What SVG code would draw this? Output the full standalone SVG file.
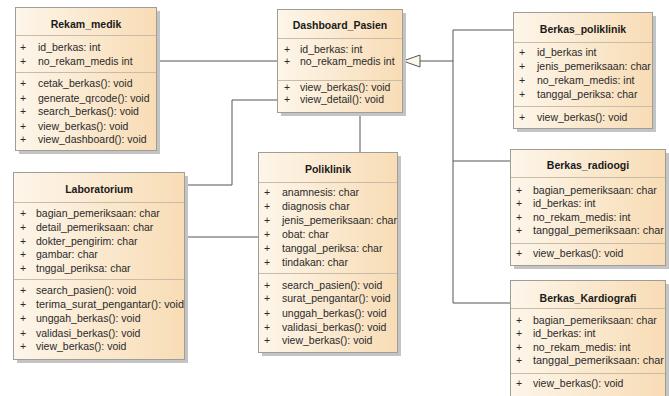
<svg xmlns="http://www.w3.org/2000/svg" width="669" height="396" viewBox="0 0 669 396">
  <defs>
    <linearGradient id="cls" x1="0" y1="0" x2="1" y2="0">
      <stop offset="0" stop-color="#fdf6ea"/>
      <stop offset="1" stop-color="#f8dcb5"/>
    </linearGradient>
  </defs>
  <style>
    .shadow { fill: #c4c4c4; }
    .box { fill: url(#cls); stroke: #a09c96; stroke-width: 1; }
    .sep { stroke: #c8bca8; stroke-width: 1; }
    .title { font-family: "Liberation Sans", Arial, sans-serif; font-size: 10.5px; font-weight: bold; fill: #1a1a1a; text-anchor: middle; }
    .m { font-family: "Liberation Sans", Arial, sans-serif; font-size: 10.5px; fill: #2a2a2a; }
    .conn { fill: none; stroke: #555555; stroke-width: 1; }
  </style>

  <!-- connectors -->
  <g id="connectors">
    <polyline class="conn" points="156,61 277,61"/>
    <polyline class="conn" points="277,100 232,100 232,185 184,185"/>
    <polyline class="conn" points="184,237 258,237"/>
    <polyline class="conn" points="360,112 360,152"/>
    <polyline class="conn" points="420,61 453,61"/>
    <polyline class="conn" points="513,30 453,30 453,303 510,303"/>
    <polyline class="conn" points="453,161 510,161"/>
    <polygon points="403,61 420,55 420,67" fill="#fdf8ee" stroke="#555555" stroke-width="1"/>
  </g>

  <!-- Rekam_medik -->
  <g id="rekam_medik">
    <rect class="shadow" x="19" y="11" width="141" height="143"/>
    <rect class="box" x="15.5" y="7.5" width="141" height="143"/>
    <line class="sep" x1="16" y1="35.5" x2="156" y2="35.5"/>
    <line class="sep" x1="16" y1="72.5" x2="156" y2="72.5"/>
    <text class="title" x="86" y="28">Rekam_medik</text>
    <text class="m" x="20" y="51">+</text><text class="m" x="38" y="51">id_berkas: int</text>
    <text class="m" x="20" y="65">+</text><text class="m" x="38" y="65">no_rekam_medis int</text>
    <text class="m" x="20" y="87">+</text><text class="m" x="38" y="87">cetak_berkas(): void</text>
    <text class="m" x="20" y="102">+</text><text class="m" x="38" y="102">generate_qrcode(): void</text>
    <text class="m" x="20" y="115">+</text><text class="m" x="38" y="115">search_berkas(): void</text>
    <text class="m" x="20" y="130">+</text><text class="m" x="38" y="130">view_berkas(): void</text>
    <text class="m" x="20" y="143">+</text><text class="m" x="38" y="143">view_dashboard(): void</text>
  </g>

  <!-- Dashboard_Pasien -->
  <g id="dashboard_pasien">
    <rect class="shadow" x="281" y="13" width="125" height="103"/>
    <rect class="box" x="277.5" y="9.5" width="125" height="103"/>
    <line class="sep" x1="278" y1="38.5" x2="402" y2="38.5"/>
    <line class="sep" x1="278" y1="80.5" x2="402" y2="80.5"/>
    <text class="title" x="340" y="29">Dashboard_Pasien</text>
    <text class="m" x="284" y="53">+</text><text class="m" x="300" y="53">id_berkas: int</text>
    <text class="m" x="284" y="65">+</text><text class="m" x="300" y="65">no_rekam_medis int</text>
    <text class="m" x="284" y="91">+</text><text class="m" x="300" y="91">view_berkas(): void</text>
    <text class="m" x="284" y="103">+</text><text class="m" x="300" y="103">view_detail(): void</text>
  </g>

  <!-- Berkas_poliklinik -->
  <g id="berkas_poliklinik">
    <rect class="shadow" x="517" y="16" width="139" height="116"/>
    <rect class="box" x="513.5" y="12.5" width="139" height="116"/>
    <line class="sep" x1="514" y1="42.5" x2="652" y2="42.5"/>
    <line class="sep" x1="514" y1="106.5" x2="652" y2="106.5"/>
    <text class="title" x="583" y="33">Berkas_poliklinik</text>
    <text class="m" x="519" y="56">+</text><text class="m" x="537" y="56">id_berkas int</text>
    <text class="m" x="519" y="70">+</text><text class="m" x="537" y="70">jenis_pemeriksaan: char</text>
    <text class="m" x="519" y="84">+</text><text class="m" x="537" y="84">no_rekam_medis: int</text>
    <text class="m" x="519" y="98">+</text><text class="m" x="537" y="98">tanggal_periksa: char</text>
    <text class="m" x="519" y="121">+</text><text class="m" x="537" y="121">view_berkas(): void</text>
  </g>

  <!-- Laboratorium -->
  <g id="laboratorium">
    <rect class="shadow" x="17" y="176" width="171" height="187"/>
    <rect class="box" x="13.5" y="172.5" width="171" height="187"/>
    <line class="sep" x1="14" y1="202.5" x2="184" y2="202.5"/>
    <line class="sep" x1="14" y1="279.5" x2="184" y2="279.5"/>
    <text class="title" x="99" y="193">Laboratorium</text>
    <text class="m" x="20" y="217">+</text><text class="m" x="36" y="217">bagian_pemeriksaan: char</text>
    <text class="m" x="20" y="231">+</text><text class="m" x="36" y="231">detail_pemeriksaan: char</text>
    <text class="m" x="20" y="245">+</text><text class="m" x="36" y="245">dokter_pengirim: char</text>
    <text class="m" x="20" y="258">+</text><text class="m" x="36" y="258">gambar: char</text>
    <text class="m" x="20" y="272">+</text><text class="m" x="36" y="272">tnggal_periksa: char</text>
    <text class="m" x="20" y="294">+</text><text class="m" x="36" y="294">search_pasien(): void</text>
    <text class="m" x="20" y="308">+</text><text class="m" x="36" y="308" textLength="148" lengthAdjust="spacingAndGlyphs">terima_surat_pengantar(): void</text>
    <text class="m" x="20" y="322">+</text><text class="m" x="36" y="322">unggah_berkas(): void</text>
    <text class="m" x="20" y="337">+</text><text class="m" x="36" y="337">validasi_berkas(): void</text>
    <text class="m" x="20" y="350">+</text><text class="m" x="36" y="350">view_berkas(): void</text>
  </g>

  <!-- Poliklinik -->
  <g id="poliklinik">
    <rect class="shadow" x="262" y="156" width="139" height="200"/>
    <rect class="box" x="258.5" y="152.5" width="139" height="200"/>
    <line class="sep" x1="259" y1="182.5" x2="397" y2="182.5"/>
    <line class="sep" x1="259" y1="273.5" x2="397" y2="273.5"/>
    <text class="title" x="328" y="173">Poliklinik</text>
    <text class="m" x="264" y="196">+</text><text class="m" x="282" y="196">anamnesis: char</text>
    <text class="m" x="264" y="210">+</text><text class="m" x="282" y="210">diagnosis char</text>
    <text class="m" x="264" y="224">+</text><text class="m" x="282" y="224" textLength="115" lengthAdjust="spacingAndGlyphs">jenis_pemeriksaan: char</text>
    <text class="m" x="264" y="238">+</text><text class="m" x="282" y="238">obat: char</text>
    <text class="m" x="264" y="252">+</text><text class="m" x="282" y="252">tanggal_periksa: char</text>
    <text class="m" x="264" y="266">+</text><text class="m" x="282" y="266">tindakan: char</text>
    <text class="m" x="264" y="289">+</text><text class="m" x="282" y="289">search_pasien(): void</text>
    <text class="m" x="264" y="302">+</text><text class="m" x="282" y="302">surat_pengantar(): void</text>
    <text class="m" x="264" y="317">+</text><text class="m" x="282" y="317">unggah_berkas(): void</text>
    <text class="m" x="264" y="331">+</text><text class="m" x="282" y="331">validasi_berkas(): void</text>
    <text class="m" x="264" y="344">+</text><text class="m" x="282" y="344">view_berkas(): void</text>
  </g>

  <!-- Berkas_radioogi -->
  <g id="berkas_radioogi">
    <rect class="shadow" x="514" y="153" width="155" height="116"/>
    <rect class="box" x="510.5" y="149.5" width="155" height="116"/>
    <line class="sep" x1="511" y1="177.5" x2="665" y2="177.5"/>
    <line class="sep" x1="511" y1="243.5" x2="665" y2="243.5"/>
    <text class="title" x="588" y="169">Berkas_radioogi</text>
    <text class="m" x="516" y="194">+</text><text class="m" x="533" y="194">bagian_pemeriksaan: char</text>
    <text class="m" x="516" y="207">+</text><text class="m" x="533" y="207">id_berkas: int</text>
    <text class="m" x="516" y="221">+</text><text class="m" x="533" y="221">no_rekam_medis: int</text>
    <text class="m" x="516" y="234">+</text><text class="m" x="533" y="234" textLength="131" lengthAdjust="spacingAndGlyphs">tanggal_pemeriksaan: char</text>
    <text class="m" x="516" y="257">+</text><text class="m" x="533" y="257">view_berkas(): void</text>
  </g>

  <!-- Berkas_Kardiografi -->
  <g id="berkas_kardiografi">
    <rect class="shadow" x="514" y="284" width="155" height="116"/>
    <rect class="box" x="510.5" y="280.5" width="155" height="120"/>
    <line class="sep" x1="511" y1="308.5" x2="665" y2="308.5"/>
    <line class="sep" x1="511" y1="373.5" x2="665" y2="373.5"/>
    <text class="title" x="588" y="302">Berkas_Kardiografi</text>
    <text class="m" x="516" y="324">+</text><text class="m" x="533" y="324">bagian_pemeriksaan: char</text>
    <text class="m" x="516" y="337">+</text><text class="m" x="533" y="337">id_berkas: int</text>
    <text class="m" x="516" y="351">+</text><text class="m" x="533" y="351">no_rekam_medis: int</text>
    <text class="m" x="516" y="364">+</text><text class="m" x="533" y="364" textLength="131" lengthAdjust="spacingAndGlyphs">tanggal_pemeriksaan: char</text>
    <text class="m" x="516" y="387">+</text><text class="m" x="533" y="387">view_berkas(): void</text>
  </g>
</svg>
